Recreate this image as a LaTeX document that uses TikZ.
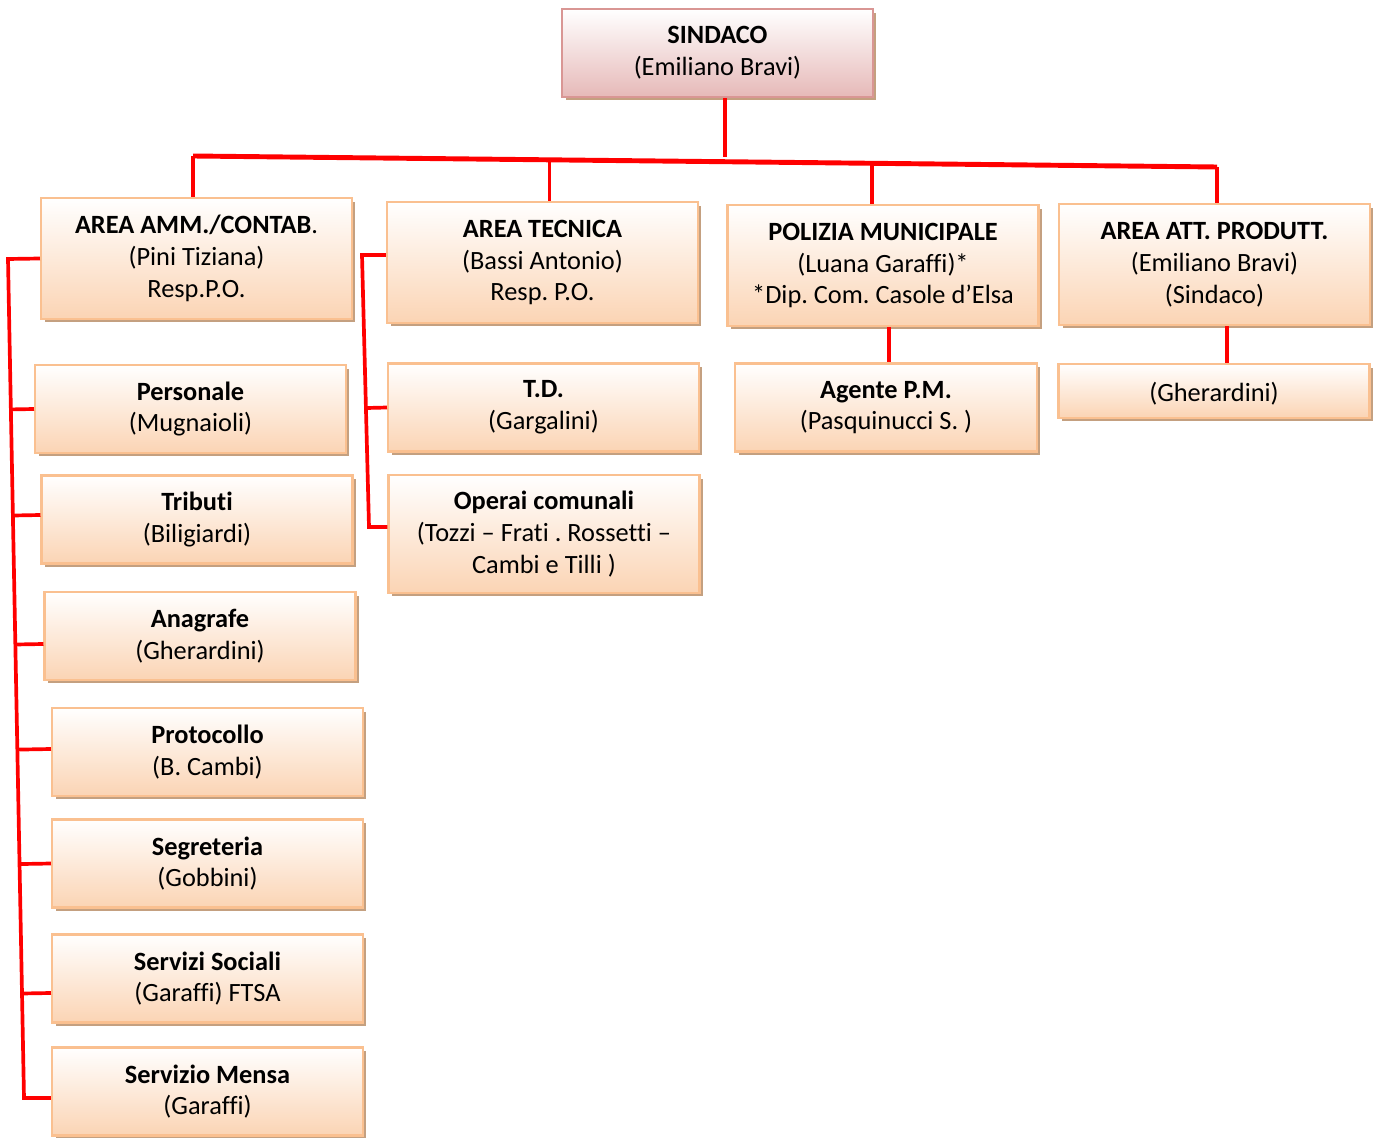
\documentclass[tikz,border=0pt]{standalone}
\usepackage{fontspec}
\setmainfont{Carlito}[Ligatures=NoCommon]
\usetikzlibrary{calc,shadows}
\definecolor{boxborder}{HTML}{FAC090}
\definecolor{boxbottom}{HTML}{FBD4B4}
\definecolor{topborder}{HTML}{D99694}
\definecolor{topbottom}{HTML}{E6B9B8}
\definecolor{shadebrown}{RGB}{196,160,128}
\definecolor{linkred}{HTML}{FF0000}
\frenchspacing

\begin{document}
\begin{tikzpicture}[
					x=0.02cm,y=-0.02cm,
					ubox/.style={rectangle,draw=boxborder,line width=1.2pt,top color=white,bottom color=boxbottom,
						minimum width=6.22cm,minimum height=1.76cm,inner sep=0pt,align=center,
						font=\fontsize{15}{18.1}\selectfont,
						execute at begin node={\rule{0pt}{14pt}},
						general shadow={fill=shadebrown,shadow xshift=0.07cm,shadow yshift=-0.07cm}},
					sbox/.style={ubox,draw=topborder,bottom color=topbottom},
					redge/.style={draw=linkred,line width=2.1pt},
					rbar/.style={redge,line width=2.8pt}
					]
					\useasboundingbox (0,0) rectangle (1373,1138);
					% vertice e aree
					\node[sbox] (sindaco) at (717.5,53) {\textbf{SINDACO}\\(Emiliano Bravi)};
					\node[ubox,minimum height=2.42cm] (amm) at (196.5,258.5) {\textbf{AREA AMM./CONTAB}.\\(Pini Tiziana)\\Resp.P.O.};
					\node[ubox,minimum height=2.42cm] (tec) at (542.5,262.5) {\textbf{AREA TECNICA}\\(Bassi Antonio)\\Resp. P.O.};
					\node[ubox,minimum height=2.42cm] (pol) at (883,265.5) {\textbf{POLIZIA MUNICIPALE}\\(Luana Garaffi)*\\*Dip. Com. Casole d’Elsa};
					\node[ubox,minimum height=2.42cm] (att) at (1214.5,264.5) {\textbf{AREA ATT. PRODUTT.}\\(Emiliano Bravi)\\(Sindaco)};
					% uffici area amministrativa
					\coordinate (lt) at (8,259);
					\coordinate (lb) at (24,1098);
					\foreach \nm/\cx/\cy/\dy/\ti/\su in {pers/190.5/409/0/Personale/(Mugnaioli),trib/197/519.5/-4.5/Tributi/(Biligiardi),anag/200/636/8/Anagrafe/(Gherardini),prot/207.5/752/-3/Protocollo/(B. Cambi),segr/207.5/863.5/0/Segreteria/(Gobbini),soc/207.5/978.5/14.5/Servizi Sociali/(Garaffi) FTSA}{
						\node[ubox] (\nm) at (\cx,\cy) {\textbf{\ti}\\\su};
						\draw[redge] ([yshift=-0.2mm*(\dy)]\nm.west) -- ($(lt)!([yshift=-0.2mm*(\dy)]\nm.west)!(lb)$);
					}
					\node[ubox] (mensa) at (207.5,1091.5) {\textbf{Servizio Mensa}\\(Garaffi)};
					% uffici altre aree
					\node[ubox] (td) at (543.5,407.5) {\textbf{T.D.}\\(Gargalini)};
					\node[ubox,minimum height=2.36cm] (operai) at (544,534) {\textbf{Operai comunali}\\(Tozzi – Frati . Rossetti –\\Cambi e Tilli )};
					\node[ubox,minimum width=6.04cm] (agente) at (886,407.5) {\textbf{Agente P.M.}\\(Pasquinucci S. )};
					\node[ubox,minimum height=1.08cm] (gher) at (1214,391) {(Gherardini)};
					% collegamenti
					\coordinate (hub) at (725,157);
					\coordinate (barL) at (193,156);
					\coordinate (barR) at (1217,167);
					\coordinate (dtec) at ($(barL)!0.348!(barR)$);
					\coordinate (dpol) at ($(barL)!0.663!(barR)$);
					\draw[redge] (hub |- sindaco.south) -- (hub);
					\draw[rbar] (barL) -- (barR);
					\draw[redge] (barL) -- (barL |- amm.north);
					\draw[redge] (dtec) -- (dtec |- tec.north);
					\draw[redge] (dpol) -- (dpol |- pol.north);
					\draw[redge] (barR) -- (barR |- att.north);
					\draw[redge] (amm.west) -- (lt) -- (lb) -- (lb -| mensa.west);
					\coordinate (tt) at (362,255);
					\coordinate (tb) at (369,527);
					\draw[redge] (tt -| tec.west) -- (tt) -- (tb) -- (tb -| operai.west);
					\draw[redge] (td.west) -- ($(tt)!(td.west)!(tb)$);
					\coordinate (pa) at (889,0);
					\draw[redge] (pa |- pol.south) -- (pa |- agente.north);
					\coordinate (ag) at (1227,0);
					\draw[redge] (ag |- att.south) -- (ag |- gher.north);
				\end{tikzpicture}
\end{document}
